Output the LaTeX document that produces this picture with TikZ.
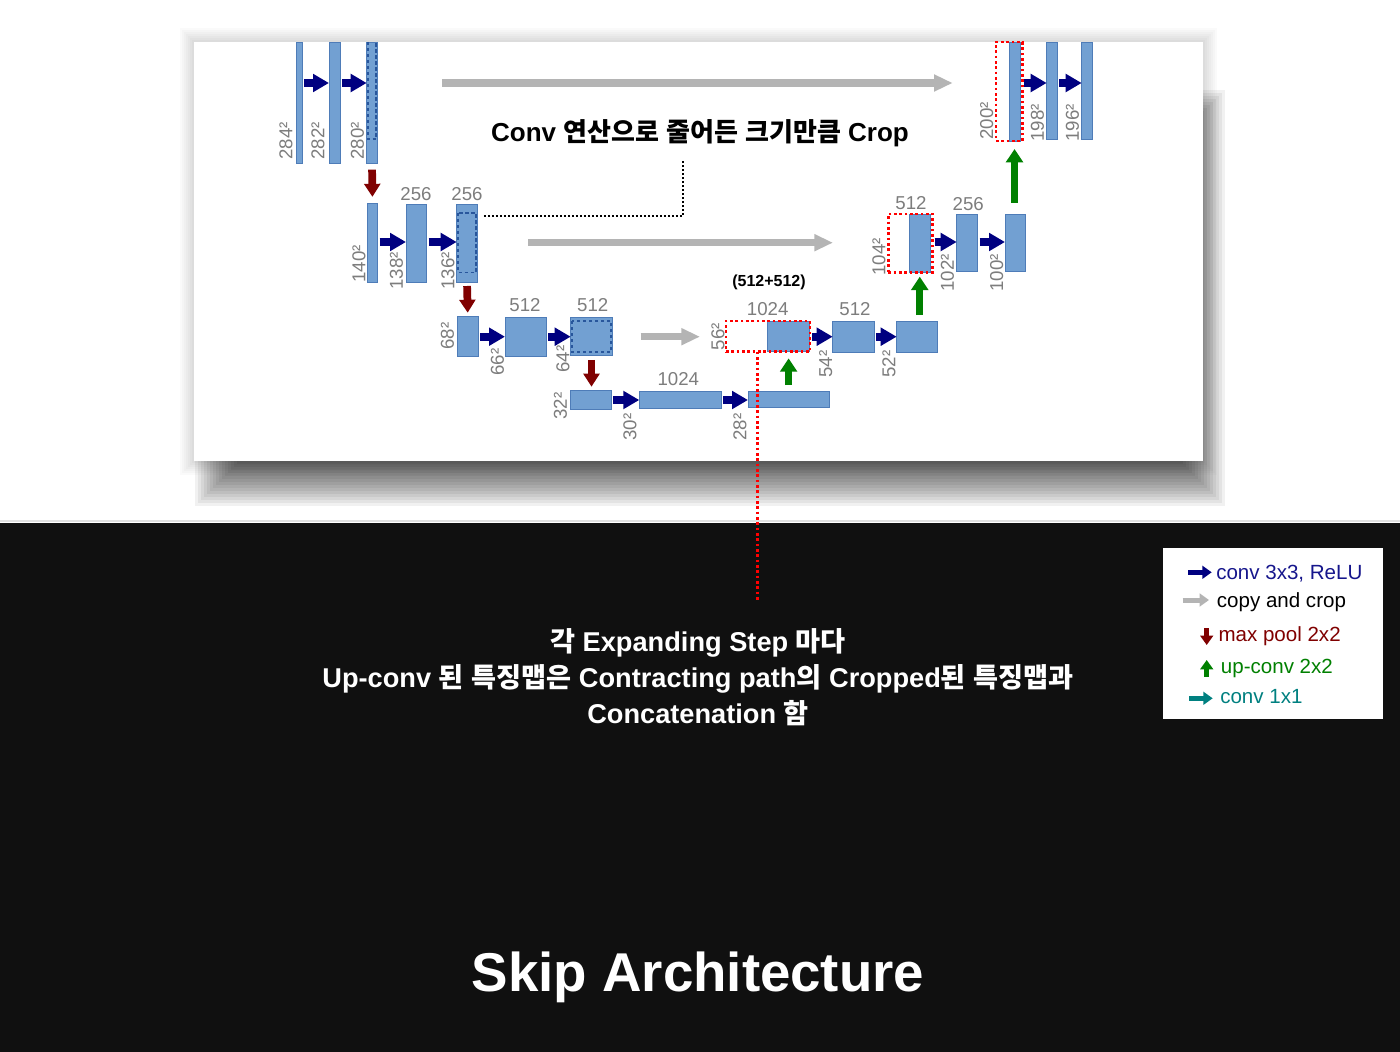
\documentclass[tikz,border=0pt]{standalone}
\usepackage{fontspec}
\setmainfont{Liberation Sans}
\newfontfamily\krfont{Noto Sans CJK KR}
\usetikzlibrary{arrows.meta,fit,calc}

\definecolor{blkfill}{RGB}{114,160,210}
\definecolor{blkline}{RGB}{78,124,184}
\definecolor{blkdash}{RGB}{40,86,156}
\definecolor{dimgray}{RGB}{125,125,125}
\definecolor{convblue}{RGB}{0,0,128}
\definecolor{convtext}{RGB}{22,22,140}
\definecolor{poolred}{RGB}{128,0,0}
\definecolor{upgreen}{RGB}{0,128,0}
\definecolor{copygray}{RGB}{180,180,180}
\definecolor{onexone}{RGB}{0,128,128}
\definecolor{darkbg}{RGB}{16,16,16}

\newcommand\ko[1]{{\krfont #1}}

\begin{document}
\begin{tikzpicture}[x=0.75pt,y=-0.75pt,
  blk/.style={draw=blkline, fill=blkfill, line width=0.6pt, inner sep=0pt, outer sep=0pt},
  blkdash/.style={draw=blkdash, line width=1.4pt, dash pattern=on 2.6pt off 1.9pt},
  cropline/.style={draw=red, line width=2pt, dash pattern=on 2pt off 2pt, inner sep=0pt, outer sep=0pt},
  blackdot/.style={draw=black, line width=1.5pt, dash pattern=on 1.5pt off 1.5pt},
  dimlbl/.style={text=dimgray, font=\fontsize{14}{16}\selectfont, inner sep=0pt},
  convarr/.style={draw=convblue, line width=6pt, -{Triangle[length=12pt,width=13pt]}, shorten <=1.5pt},
  poolarr/.style={draw=poolred, line width=5.8pt, -{Triangle[length=9.75pt,width=11.8pt]}},
  uparr/.style={draw=upgreen, line width=5.5pt, -{Triangle[length=10pt,width=12.5pt]}},
  copyarr/.style={draw=copygray, line width=5.5pt, -{Triangle[length=14pt,width=12pt]}},
  legarr/.style={line width=3.75pt, -{Triangle[length=7pt,width=9.5pt]}},
  legtxt/.style={anchor=base west, inner sep=0pt, font=\fontsize{15.4}{18}\selectfont},
  note/.style={anchor=base, inner sep=0pt, text=white, font=\bfseries\fontsize{20.4}{24}\selectfont}
]
\useasboundingbox (0,0) rectangle (1400,1052);
\fill[white] (0,0) rectangle (1400,523);
\foreach \r in {2,4,...,14}
  \fill[black, opacity=0.018] (194-\r,42-\r) rectangle (1203+\r,461+\r);
\foreach \r in {-30,-27,...,30}
  \fill[black, opacity=0.055] (225-\r,120-\r) rectangle (1195+\r,476+\r);
\fill[white] (194,42) rectangle (1203,461);
\draw[black!12, line width=1pt] (0,521) -- (1400,521);
\fill[darkbg] (0,523) rectangle (1400,1052);

\node[blk, fit={(296,42) (302.3,163)}] (b284) {};
\node[blk, fit={(329,42) (340,163)}] (b282) {};
\node[blk, fit={(366.7,42) (377.3,163)}] (b280) {};
\draw[blkdash] (367.6,42) -- (367.6,139) -- (376.4,139) -- (376.4,42);
\node[blk, fit={(1009,42) (1020,141)}] (u200) {};
\node[cropline, fit={(996,42) (1022.3,141)}] (k200) {};
\node[blk, fit={(1046.7,42) (1057.3,139)}] (b198) {};
\node[blk, fit={(1081.7,42) (1092.3,139)}] (b196) {};

\node[blk, fit={(367.3,203.5) (377.7,282.3)}] (b140) {};
\node[blk, fit={(406,204.3) (426.7,282)}] (b138) {};
\node[blk, fit={(456.7,204.3) (477.3,282)}] (b136) {};
\draw[blkdash] (458.2,213) rectangle (476,272.5);
\node[blk, fit={(909,214) (930.5,272.3)}] (u104) {};
\node[cropline, fit={(888.3,214) (932.7,272.3)}] (k104) {};
\node[blk, fit={(956.7,214.3) (977.7,271)}] (b102) {};
\node[blk, fit={(1005,214.3) (1025.7,271)}] (b100) {};

\node[blk, fit={(457.3,316.7) (478.3,356)}] (b68) {};
\node[blk, fit={(505,317.7) (546,356)}] (b66) {};
\node[blk, fit={(570.7,317.7) (612.3,355.3)}] (b64) {};
\draw[blkdash] (572,321) rectangle (611,352);
\node[blk, fit={(767.7,321) (809.5,351.7)}] (u56) {};
\node[cropline, fit={(726,321) (810,351.7)}] (k56) {};
\node[blk, fit={(832.7,321.7) (874.3,352.3)}] (b54) {};
\node[blk, fit={(896.7,321.7) (937.7,352.3)}] (b52) {};

\node[blk, fit={(570,390.7) (611,409)}] (b32) {};
\node[blk, fit={(639.3,391) (721,408.3)}] (b30) {};
\node[blk, fit={(748,391.7) (829.3,407.7)}] (b28) {};

\draw[convarr] (b284.east |- 0,83) -- (b282.west |- 0,83);
\draw[convarr] (b282.east |- 0,83) -- (b280.west |- 0,83);
\draw[convarr] (k200.east |- 0,83) -- (b198.west |- 0,83);
\draw[convarr] (b198.east |- 0,83) -- (b196.west |- 0,83);
\draw[convarr] (b140.east |- 0,242) -- (b138.west |- 0,242);
\draw[convarr] (b138.east |- 0,242) -- (b136.west |- 0,242);
\draw[convarr] (k104.east |- 0,242) -- (b102.west |- 0,242);
\draw[convarr] (b102.east |- 0,242) -- (b100.west |- 0,242);
\draw[convarr] (b68.east |- 0,336.7) -- (b66.west |- 0,336.7);
\draw[convarr] (b66.east |- 0,336.7) -- (b64.west |- 0,336.7);
\draw[convarr] (k56.east |- 0,336.7) -- (b54.west |- 0,336.7);
\draw[convarr] (b54.east |- 0,336.7) -- (b52.west |- 0,336.7);
\draw[convarr] (b32.east |- 0,400) -- (b30.west |- 0,400);
\draw[convarr] (b30.east |- 0,400) -- (b28.west |- 0,400);

\draw[poolarr, shorten <=5pt, shorten >=5pt] (b280.south) -- (b140.north);
\draw[poolarr, shorten <=3pt, shorten >=3pt] (b136.south) -- (b68.north);
\draw[poolarr, shorten <=3.5pt, shorten >=3pt] (b64.south) -- (b32.north -| b64.south);

\draw[uparr, shorten <=5pt, shorten >=5pt] (b28.north -| u56.south) -- (u56.south);
\draw[uparr, shorten <=5pt, shorten >=3.3pt] (b52.north -| u104.south) -- (u104.south);
\draw[uparr, shorten <=8.7pt, shorten >=6pt] (b100.north -| u200.south) -- (u200.south);

\coordinate (cp1s) at (442.3,83);
\coordinate (cp1e) at (952.7,83);
\coordinate (cp2s) at (528.3,242.7);
\coordinate (cp2e) at (833,242.7);
\coordinate (cp3s) at (640.7,336.7);
\coordinate (cp3e) at (700,336.7);
\draw[copyarr] (cp1s) -- (cp1e);
\draw[copyarr] (cp2s) -- (cp2e);
\draw[copyarr] (cp3s) -- (cp3e);

\node[dimlbl, rotate=90] (l284) at (286,141) {284²};
\node[dimlbl, rotate=90] (l282) at (318,141) {282²};
\node[dimlbl, rotate=90] (l280) at (357.5,141) {280²};
\node[dimlbl, rotate=90] (l140) at (359,264) {140²};
\node[dimlbl, rotate=90] (l138) at (396.5,271) {138²};
\node[dimlbl, rotate=90] (l136) at (448,271) {136²};
\node[dimlbl, rotate=90] (l68) at (447.5,336) {68²};
\node[dimlbl, rotate=90] (l66) at (497.5,362) {66²};
\node[dimlbl, rotate=90] (l64) at (563,359) {64²};
\node[dimlbl, rotate=90] (l32) at (560.5,406) {32²};
\node[dimlbl, rotate=90] (l30) at (630,427) {30²};
\node[dimlbl, rotate=90] (l28) at (740,427) {28²};
\node[dimlbl, rotate=90] (l56) at (718,336.7) {56²};
\node[dimlbl, rotate=90] (l54) at (825.7,364) {54²};
\node[dimlbl, rotate=90] (l52) at (889,364) {52²};
\node[dimlbl, rotate=90] (l104) at (879,257) {104²};
\node[dimlbl, rotate=90] (l102) at (947.5,273) {102²};
\node[dimlbl, rotate=90] (l100) at (996.7,273) {100²};
\node[dimlbl, rotate=90] (l200) at (986.7,121) {200²};
\node[dimlbl, rotate=90] (l198) at (1037.5,123) {198²};
\node[dimlbl, rotate=90] (l196) at (1072.5,123) {196²};

\node[dimlbl] (c138) at (416,194) {256};
\node[dimlbl] (c136) at (467,194) {256};
\node[dimlbl] (c66) at (525,305) {512};
\node[dimlbl] (c64) at (592.7,305) {512};
\node[dimlbl] (c30) at (678.3,379.3) {1024};
\node[dimlbl] (c56) at (767.7,309.3) {1024};
\node[dimlbl] (c54) at (855,309.3) {512};
\node[dimlbl] (c104) at (911,203.3) {512};
\node[dimlbl] (c102) at (968.3,204) {256};
\node[inner sep=0pt, font=\bfseries\fontsize{12}{14}\selectfont] (sum56) at (769,282) {(512+512)};

\node[anchor=base, inner sep=0pt, font=\bfseries\fontsize{19.5}{23}\selectfont] (cropnote) at (700,142)
  {Conv \ko{연산으로} \ko{줄어든} \ko{크기만큼} Crop};
\coordinate (cropend) at (683,160);
\draw[blackdot, shorten <=5pt] (b136.east |- 0,216) -| (cropend);

\coordinate (notetop) at (757.7,602);
\draw[cropline] (notetop |- k56.south) -- (notetop);

\node[fill=white, inner sep=0pt, fit={(1163,548) (1383,719)}] (legend) {};
\node[legtxt, text=convtext] (lt1) at (1216,579.3) {conv 3x3, ReLU};
\node[legtxt, text=black] (lt2) at (1216.7,607.7) {copy and crop};
\node[legtxt, text=poolred] (lt3) at (1218.3,641.7) {max pool 2x2};
\node[legtxt, text=upgreen] (lt4) at (1220.7,673.3) {up-conv 2x2};
\node[legtxt, text=onexone] (lt5) at (1220,703.3) {conv 1x1};
\coordinate (la1) at (1188,572.3);
\coordinate (la2) at (1182.7,600);
\coordinate (la3s) at (1206.7,628);
\coordinate (la3e) at (1206.7,645);
\coordinate (la4s) at (1206.7,676.7);
\coordinate (la4e) at (1206.7,660);
\coordinate (la5) at (1189.3,698.3);
\draw[legarr, draw=convblue] (la1) -- (la1 -| 1211.7,0);
\draw[legarr, draw=copygray] (la2) -- (la2 -| 1209,0);
\draw[legarr, draw=poolred] (la3s) -- (la3e);
\draw[legarr, draw=upgreen] (la4s) -- (la4e);
\draw[legarr, draw=onexone] (la5) -- (la5 -| 1212.7,0);

\node[note] (note1) at (698,651) {\ko{각} Expanding Step \ko{마다}};
\node[note] (note2) at (698,687.5) {Up-conv \ko{된} \ko{특징맵은} Contracting path\ko{의} Cropped\ko{된} \ko{특징맵과}};
\node[note] (note3) at (698,723.5) {Concatenation \ko{함}};

\node[anchor=base, inner sep=0pt, text=white, font=\bfseries\fontsize{41}{48}\selectfont] (title) at (698,991) {Skip Architecture};

\end{tikzpicture}
\end{document}
